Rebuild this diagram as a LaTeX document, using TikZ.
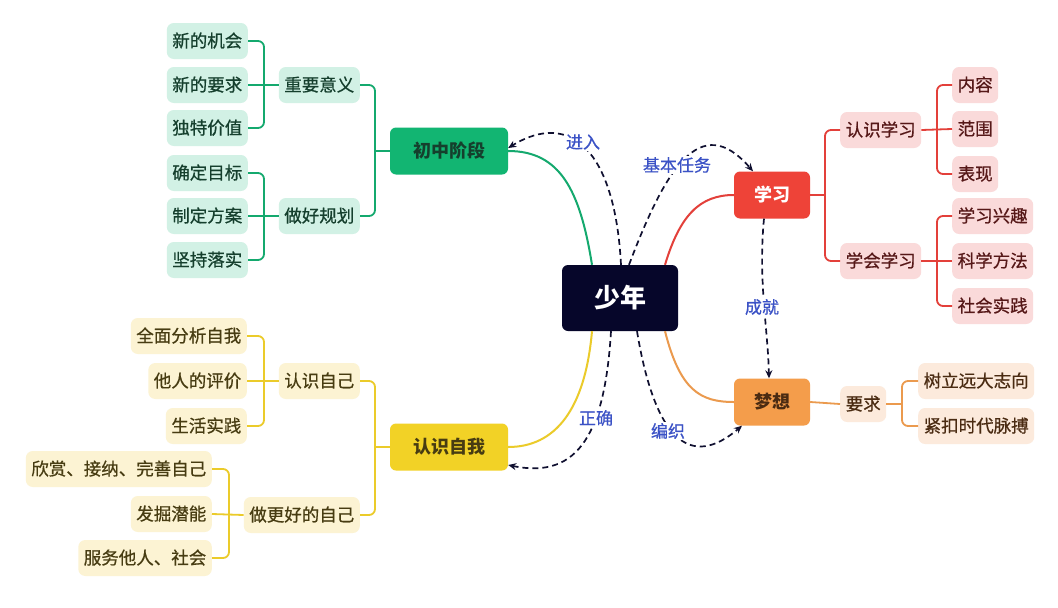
\documentclass[tikz,border=0pt]{standalone}
\usepackage{fontspec}
\setmainfont{Noto Sans CJK SC}
\newfontfamily\medfont{Noto Sans CJK SC}[FakeBold=0.7]
\usetikzlibrary{arrows.meta}
\definecolor{rootc}{HTML}{06062A}
\definecolor{gmain}{HTML}{12B572}
\definecolor{gline}{HTML}{14A96E}
\definecolor{gleaf}{HTML}{D2F1E5}
\definecolor{gtext}{HTML}{153F2D}
\definecolor{rmain}{HTML}{EE4338}
\definecolor{rline}{HTML}{E3403A}
\definecolor{rleaf}{HTML}{FADADA}
\definecolor{rtext}{HTML}{561818}
\definecolor{ymain}{HTML}{F2D226}
\definecolor{yline}{HTML}{EBCB2A}
\definecolor{yleaf}{HTML}{FCF3D3}
\definecolor{ytext}{HTML}{473C12}
\definecolor{omain}{HTML}{F49D4B}
\definecolor{oline}{HTML}{EB9A4E}
\definecolor{oleaf}{HTML}{FCEADC}
\definecolor{otext}{HTML}{4A2B12}
\definecolor{dashc}{HTML}{101030}
\definecolor{lblc}{HTML}{3B52C6}
\tikzset{
  x=1pt,y=-1pt,
  rootbox/.style={fill=rootc,rounded corners=6pt,minimum width=116pt,minimum height=66pt,
    text=white,font=\fontsize{26}{26}\selectfont\bfseries,text height=22pt,text depth=3pt},
  mainbox/.style={rounded corners=6pt,minimum height=47pt,
    font=\fontsize{18}{18}\selectfont\bfseries,text height=15.5pt,text depth=2.5pt},
  leafbox/.style={rounded corners=7pt,minimum height=36pt,inner xsep=5.5pt,
    font=\fontsize{17.5}{17.5}\medfont,text height=15pt,text depth=2.5pt},
  gl/.style={leafbox,fill=gleaf,text=gtext},
  rl/.style={leafbox,fill=rleaf,text=rtext},
  yl/.style={leafbox,fill=yleaf,text=ytext},
  ol/.style={leafbox,fill=oleaf,text=otext},
  gc/.style={draw=gline,line width=1.8pt,rounded corners=6pt},
  rc/.style={draw=rline,line width=1.8pt,rounded corners=6pt},
  yc/.style={draw=yline,line width=1.8pt,rounded corners=6pt},
  oc/.style={draw=oline,line width=1.8pt,rounded corners=6pt},
  rel/.style={draw=dashc,line width=1.7pt,dash pattern=on 6pt off 4pt,
    -{Stealth[length=8pt,width=7pt]}},
  lbl/.style={fill=white,inner sep=1.5pt,text=lblc,font=\fontsize{17}{17}\medfont}
}
\begin{document}
\begin{tikzpicture}
\useasboundingbox[fill=white] (0,0) rectangle (1058,608);

% main nodes
\node[rootbox] (root) at (620,298) {少年};
\node[mainbox,fill=gmain,text=gtext,minimum width=118pt] (zh) at (449,151) {初中阶段};
\node[mainbox,fill=rmain,text=white,minimum width=76pt] (xx) at (772,195) {学习};
\node[mainbox,fill=ymain,text=ytext,minimum width=118pt] (rs) at (449,447) {认识自我};
\node[mainbox,fill=omain,text=otext,minimum width=76pt] (mx) at (772,402) {梦想};

% green branch
\node[gl,anchor=east] (g1) at (360,85) {重要意义};
\node[gl,anchor=east] (g2) at (360,216) {做好规划};
\node[gl,anchor=east] (g11) at (248,41) {新的机会};
\node[gl,anchor=east] (g12) at (248,85) {新的要求};
\node[gl,anchor=east] (g13) at (248,128) {独特价值};
\node[gl,anchor=east] (g21) at (248,173) {确定目标};
\node[gl,anchor=east] (g22) at (248,216) {制定方案};
\node[gl,anchor=east] (g23) at (248,260) {坚持落实};

\coordinate (gt0) at (375,0);
\coordinate (gt1) at (264,0);
\draw[gc] (zh.west) -- (zh.west -| gt0);
\draw[gc] (g1.east) -- (g1.east -| gt0) -- (g2.east -| gt0) -- (g2.east);
\draw[gc] (g12.east) -- (g1.west);
\draw[gc] (g11.east) -- (g11.east -| gt1) -- (g13.east -| gt1) -- (g13.east);
\draw[gc] (g22.east) -- (g2.west);
\draw[gc] (g21.east) -- (g21.east -| gt1) -- (g23.east -| gt1) -- (g23.east);

% yellow branch
\node[yl,anchor=east] (y1) at (360,381) {认识自己};
\node[yl,anchor=east] (y2) at (360,515) {做更好的自己};
\node[yl,anchor=east] (y11) at (247,336) {全面分析自我};
\node[yl,anchor=east] (y12) at (247,381) {他人的评价};
\node[yl,anchor=east] (y13) at (247,426) {生活实践};
\node[yl,anchor=east] (y21) at (212,469) {欣赏、接纳、完善自己};
\node[yl,anchor=east] (y22) at (212,514) {发掘潜能};
\node[yl,anchor=east] (y23) at (212,558) {服务他人、社会};

\coordinate (yt0) at (375,0);
\coordinate (yt1) at (264,0);
\coordinate (yt2) at (229,0);
\draw[yc] (rs.west) -- (rs.west -| yt0);
\draw[yc] (y1.east) -- (y1.east -| yt0) -- (y2.east -| yt0) -- (y2.east);
\draw[yc] (y12.east) -- (y1.west);
\draw[yc] (y11.east) -- (y11.east -| yt1) -- (y13.east -| yt1) -- (y13.east);
\draw[yc] (y22.east) -- (y2.west);
\draw[yc] (y21.east) -- (y21.east -| yt2) -- (y23.east -| yt2) -- (y23.east);

% red branch
\node[rl,anchor=west] (r1) at (840,130) {认识学习};
\node[rl,anchor=west] (r2) at (840,261) {学会学习};
\node[rl,anchor=west] (r11) at (952,85) {内容};
\node[rl,anchor=west] (r12) at (952,129) {范围};
\node[rl,anchor=west] (r13) at (952,174) {表现};
\node[rl,anchor=west] (r21) at (952,216) {学习兴趣};
\node[rl,anchor=west] (r22) at (952,261) {科学方法};
\node[rl,anchor=west] (r23) at (952,306) {社会实践};

\coordinate (rt0) at (825,0);
\coordinate (rt1) at (937,0);
\draw[rc] (xx.east) -- (xx.east -| rt0);
\draw[rc] (r1.west) -- (r1.west -| rt0) -- (r2.west -| rt0) -- (r2.west);
\draw[rc] (r1.east) -- (r12.west);
\draw[rc] (r11.west) -- (r11.west -| rt1) -- (r13.west -| rt1) -- (r13.west);
\draw[rc] (r2.east) -- (r22.west);
\draw[rc] (r21.west) -- (r21.west -| rt1) -- (r23.west -| rt1) -- (r23.west);

% orange branch
\node[ol,anchor=west] (o1) at (840,404) {要求};
\node[ol,anchor=west] (o11) at (918,381) {树立远大志向};
\node[ol,anchor=west] (o12) at (918,426) {紧扣时代脉搏};
\coordinate (ot1) at (902,0);
\draw[oc] (mx.east) -- (o1.west);
\draw[oc] (o1.east) -- (o1.east -| ot1);
\draw[oc] (o11.west) -- (o11.west -| ot1) -- (o12.west -| ot1) -- (o12.west);

% main curves
\draw[draw=gline,line width=2pt] ([xshift=-28pt]root.north) .. controls (580,190) and (560,151) .. (zh.east);
\draw[draw=rline,line width=2pt] ([xshift=45pt]root.north) .. controls (680,215) and (700,195) .. (xx.west);
\draw[draw=yline,line width=2pt] ([xshift=-28pt]root.south) .. controls (585,410) and (555,447) .. (rs.east);
\draw[draw=oline,line width=2pt] ([xshift=45pt]root.south) .. controls (680,390) and (700,402) .. (mx.west);

% relations
\draw[rel] ([xshift=1pt]root.north) .. controls (615,150) and (570,110) .. ([yshift=3pt]zh.east);
\draw[rel] ([xshift=9pt]root.north) .. controls (665,170) and (700,110) .. ([xshift=-19pt]xx.north);
\draw[rel] ([xshift=-8pt]xx.south) .. controls (758,280) and (768,330) .. ([xshift=-3pt]mx.north);
\draw[rel] ([xshift=-9pt]root.south) .. controls (605,430) and (580,480) .. ([yshift=-18pt]rs.east);
\draw[rel] ([xshift=17pt]root.south) .. controls (655,440) and (690,470) .. ([xshift=-30pt]mx.south);

\node[lbl] (l1) at (583,142) {进入};
\node[lbl] (l2) at (677,165) {基本任务};
\node[lbl] (l3) at (762,307) {成就};
\node[lbl] (l4) at (596,418) {正确};
\node[lbl] (l5) at (668,431) {编织};
\end{tikzpicture}
\end{document}
